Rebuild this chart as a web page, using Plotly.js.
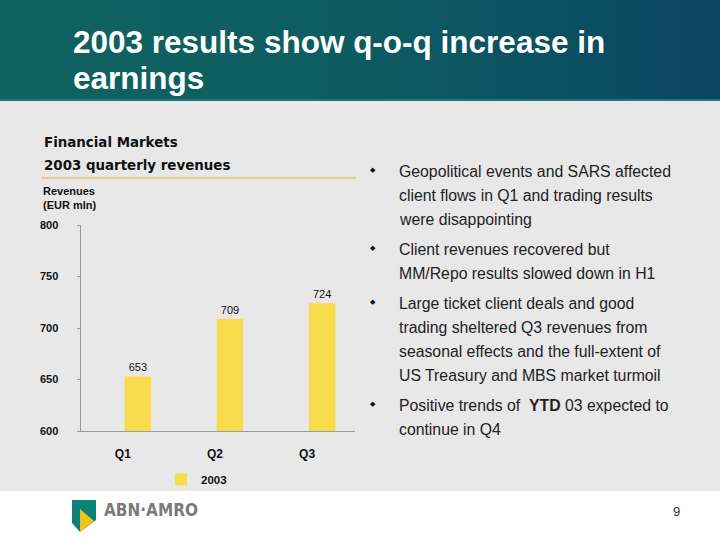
<!DOCTYPE html>
<html>
<head>
<meta charset="utf-8">
<script src="https://cdn.plot.ly/plotly-3.0.1.min.js"></script>
<style>
  html, body { margin: 0; padding: 0; background: #ffffff; }
  #wrap { position: relative; width: 720px; height: 540px; overflow: hidden; }
  #hdr { position: absolute; left: 0; top: 0; width: 720px; height: 99px;
         background: linear-gradient(to right, #10615f 0%, #0e5f61 35%, #0c5662 65%, #0a4660 100%);
         border-bottom: 2px solid #1b7a78; }
  #gray { position: absolute; left: 0; top: 101px; width: 720px; height: 390px; background: #e8e8e8; }
  #chart { position: absolute; left: 0; top: 0; width: 720px; height: 540px; }
</style>
</head>
<body>
<div id="wrap">
  <div id="hdr"></div>
  <div id="gray"></div>
  <div id="chart"></div>
</div>
<script>
// ---- data ----
var quarters = ["Q1", "Q2", "Q3"];
var revenues2003 = [653, 709, 724];
var seriesName = "2003";
var yTicks = [600, 650, 700, 750, 800];

var titleLines = ["2003 results show q-o-q increase in", "earnings"];
var sectionTitle = "Financial Markets";
var chartTitle = "2003 quarterly revenues";
var yAxisLabel = ["Revenues", "(EUR mln)"];
var bullets = [
  ["Geopolitical events and SARS affected", "client flows in Q1 and trading results", "were disappointing"],
  ["Client revenues recovered but", "MM/Repo results slowed down in H1"],
  ["Large ticket client deals and good", "trading sheltered Q3 revenues from", "seasonal effects and the full-extent of", "US Treasury and MBS market turmoil"],
  ["Positive trends of  <b>YTD</b> 03 expected to", "continue in Q4"]
];
var pageNumber = "9";
var brand = "ABN\u00B7AMRO";

// ---- helpers (pixel -> paper) ----
var W = 720, H = 540;
function px(x) { return x / W; }
function py(y) { return 1 - y / H; }
function pathPx(pts) {
  return pts.map(function (p, i) { return (i ? "L" : "M") + px(p[0]) + "," + py(p[1]); }).join(" ") + " Z";
}

var annotations = [];
var shapes = [];

// title
titleLines.forEach(function (t, i) {
  annotations.push({
    xref: "paper", yref: "paper", x: px(71), y: py(42 + i * 36),
    xanchor: "left", yanchor: "middle", showarrow: false, text: "<b>" + t + "</b>",
    font: { family: "Liberation Sans, Arial, sans-serif", size: 31.5, color: "#ffffff" }
  });
});

// section titles
annotations.push({ xref: "paper", yref: "paper", x: px(42), y: py(142), xanchor: "left", yanchor: "middle",
  showarrow: false, text: "<b>" + sectionTitle + "</b>",
  font: { family: "DejaVu Sans, Verdana, sans-serif", size: 13.4, color: "#111111" } });
annotations.push({ xref: "paper", yref: "paper", x: px(42), y: py(166), xanchor: "left", yanchor: "middle",
  showarrow: false, text: "<b>" + chartTitle + "</b>",
  font: { family: "DejaVu Sans, Verdana, sans-serif", size: 13.4, color: "#111111" } });
shapes.push({ type: "line", xref: "paper", yref: "paper", x0: px(41), x1: px(356), y0: py(178), y1: py(178),
  line: { color: "#e6c477", width: 1.5 } });

// y axis label
yAxisLabel.forEach(function (t, i) {
  annotations.push({ xref: "paper", yref: "paper", x: px(41), y: py(191 + i * 14), xanchor: "left", yanchor: "middle",
    showarrow: false, text: "<b>" + t + "</b>",
    font: { family: "Liberation Sans, Arial, sans-serif", size: 11, color: "#111111" } });
});

// bullets
var lineY = 171;
bullets.forEach(function (b) {
  annotations.push({ xref: "paper", yref: "paper", x: px(373), y: py(lineY - 1), xanchor: "center", yanchor: "middle",
    showarrow: false, text: "\u25C6", font: { family: "DejaVu Sans, sans-serif", size: 7, color: "#111111" } });
  b.forEach(function (line) {
    annotations.push({ xref: "paper", yref: "paper", x: px(397), y: py(lineY), xanchor: "left", yanchor: "middle",
      showarrow: false, text: line, font: { family: "Liberation Sans, Arial, sans-serif", size: 15.8, color: "#222222" } });
    lineY += 24;
  });
  lineY += 6;
});

// footer: logo
shapes.push({ type: "path", xref: "paper", yref: "paper",
  path: pathPx([[72, 500], [96, 500], [96, 520], [80, 532], [72, 523]]),
  fillcolor: "#0b8273", line: { width: 0 } });
shapes.push({ type: "path", xref: "paper", yref: "paper",
  path: pathPx([[80, 509], [94, 521], [80, 532]]),
  fillcolor: "#f2c318", line: { width: 0 } });
annotations.push({ xref: "paper", yref: "paper", x: px(102), y: py(510), xanchor: "left", yanchor: "middle",
  showarrow: false, text: "<b>" + brand + "</b>",
  font: { family: "DejaVu Sans Condensed, Liberation Sans Narrow, sans-serif", size: 17, color: "#7a7a7a" } });
annotations.push({ xref: "paper", yref: "paper", x: px(676), y: py(511), xanchor: "center", yanchor: "middle",
  showarrow: false, text: pageNumber,
  font: { family: "Liberation Sans, Arial, sans-serif", size: 13, color: "#333333" } });

// ---- chart ----
var trace = {
  type: "bar",
  name: seriesName,
  x: quarters.map(function (q, i) { return i; }),
  y: revenues2003,
  width: 0.285,
  offset: 0.02,
  marker: { color: "#f9dc4c", line: { width: 0 } },
  text: revenues2003.map(String),
  textposition: "outside",
  cliponaxis: false,
  textfont: { family: "Liberation Sans, Arial, sans-serif", size: 11, color: "#111111" },
  hoverinfo: "x+y"
};

var layout = {
  width: W, height: H,
  margin: { l: 0, r: 0, t: 0, b: 0, pad: 0 },
  paper_bgcolor: "rgba(0,0,0,0)",
  plot_bgcolor: "rgba(0,0,0,0)",
  showlegend: true,
  legend: { x: px(161), y: py(465), xanchor: "left", yanchor: "top", orientation: "h",
    bgcolor: "rgba(0,0,0,0)", font: { family: "Liberation Sans, Arial, sans-serif", size: 11.5, color: "#111111", weight: "bold" } },
  xaxis: {
    domain: [px(80.5), px(355)],
    range: [-0.46, 2.52],
    tickmode: "array", tickvals: [0, 1, 2], ticktext: quarters,
    showline: true, linecolor: "#9a9a9a", linewidth: 1,
    ticks: "", showgrid: false, zeroline: false,
    tickfont: { family: "Liberation Sans, Arial, sans-serif", size: 12, color: "#111111", weight: "bold" },
    ticklabelstandoff: 12, fixedrange: true
  },
  yaxis: {
    domain: [py(431), py(225)],
    range: [600, 800],
    tickmode: "array", tickvals: yTicks,
    showline: true, linecolor: "#9a9a9a", linewidth: 1,
    ticks: "outside", ticklen: 3, tickcolor: "#9a9a9a",
    showgrid: false, zeroline: false,
    tickfont: { family: "Liberation Sans, Arial, sans-serif", size: 11, color: "#111111", weight: "bold" },
    ticklabelstandoff: 16, fixedrange: true
  },
  annotations: annotations,
  shapes: shapes
};

Plotly.newPlot("chart", [trace], layout, { displayModeBar: false, staticPlot: true });
</script>
</body>
</html>
